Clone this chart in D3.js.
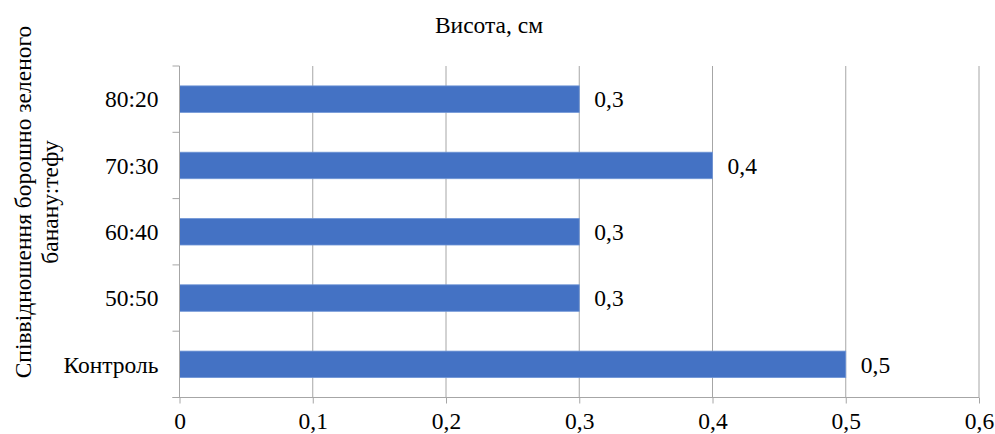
<!DOCTYPE html>
<html>
<head>
<meta charset="utf-8">
<script src="https://cdn.jsdelivr.net/npm/d3@7"></script>
<style>
  html, body { margin: 0; padding: 0; background: #fff; }
  svg { display: block; }
  text { font-family: "Liberation Serif", "Times New Roman", serif; fill: #000; }
</style>
</head>
<body>
<script>
// Bar chart: height of baked samples by flour ratio
const categories = ["80:20", "70:30", "60:40", "50:50", "Контроль"];
const values = [0.3, 0.4, 0.3, 0.3, 0.5];
const valueLabels = ["0,3", "0,4", "0,3", "0,3", "0,5"];
const xTicks = [0, 0.1, 0.2, 0.3, 0.4, 0.5, 0.6];
const xTickLabels = ["0", "0,1", "0,2", "0,3", "0,4", "0,5", "0,6"];
const title = "Висота, см";
const yTitleLines = ["Співвідношення борошно зеленого", "банану:тефу"];

const W = 995, H = 434;
const margin = { top: 66, right: 16, bottom: 36.5, left: 179.5 };
const fontSize = 23.5;
const serif = "Liberation Serif, Times New Roman, serif";
const axisColor = "#a6a6a6";

const svg = d3.select("body").append("svg").attr("width", W).attr("height", H);

const x = d3.scaleLinear().domain([0, 0.6]).range([margin.left, W - margin.right]);
const y = d3.scaleBand().domain(categories).range([margin.top, H - margin.bottom])
  .paddingInner(0.6).paddingOuter(0.3);

// vertical gridlines
svg.append("g").selectAll("line").data(xTicks.slice(1)).join("line")
  .attr("x1", d => x(d)).attr("x2", d => x(d))
  .attr("y1", margin.top).attr("y2", H - margin.bottom)
  .attr("stroke", axisColor).attr("stroke-width", 1);

// bars
svg.append("g").selectAll("rect").data(categories).join("rect")
  .attr("x", x(0))
  .attr("y", d => y(d))
  .attr("width", (d, i) => x(values[i]) - x(0))
  .attr("height", y.bandwidth())
  .attr("fill", "#4472c4")
  .attr("stroke", "#7096d6").attr("stroke-width", 0.8);

// value labels
svg.append("g").selectAll("text").data(categories).join("text")
  .attr("x", (d, i) => x(values[i]) + 15)
  .attr("y", d => y(d) + y.bandwidth() / 2)
  .attr("dy", "0.35em")
  .attr("font-size", fontSize)
  .text((d, i) => valueLabels[i]);

// x axis
const xAxis = d3.axisBottom(x).tickValues(xTicks)
  .tickFormat((d, i) => xTickLabels[i]).tickSize(6).tickPadding(9).tickSizeOuter(0);
const gx = svg.append("g").attr("transform", `translate(0,${H - margin.bottom})`).call(xAxis);
gx.select(".domain").remove();
gx.append("line").attr("x1", margin.left - 7).attr("x2", W - margin.right)
  .attr("stroke", axisColor);
gx.selectAll(".tick line").attr("stroke", axisColor);
gx.selectAll(".tick text").attr("font-size", fontSize).attr("font-family", serif).attr("fill", "#000");

// y axis with ticks at category boundaries
const yTop = margin.top, yBot = H - margin.bottom;
const step = (yBot - yTop) / categories.length;
const gy = svg.append("g");
gy.append("line").attr("x1", margin.left).attr("x2", margin.left)
  .attr("y1", yTop).attr("y2", yBot).attr("stroke", axisColor);
gy.selectAll("line.tk").data(d3.range(categories.length + 1)).join("line").attr("class", "tk")
  .attr("x1", margin.left - 7).attr("x2", margin.left)
  .attr("y1", i => yTop + i * step).attr("y2", i => yTop + i * step)
  .attr("stroke", axisColor);
gy.selectAll("text").data(categories).join("text")
  .attr("x", margin.left - 21)
  .attr("y", d => y(d) + y.bandwidth() / 2)
  .attr("dy", "0.35em")
  .attr("text-anchor", "end")
  .attr("font-size", fontSize)
  .text(d => d);

// chart title
svg.append("text").attr("x", 489).attr("y", 33).attr("text-anchor", "middle")
  .attr("font-size", fontSize).text(title);

// y axis title
const yt = svg.append("text").attr("transform", "translate(31,202) rotate(-90)")
  .attr("text-anchor", "middle").attr("font-size", fontSize);
yTitleLines.forEach((t, i) => {
  yt.append("tspan").attr("x", 0).attr("dy", i === 0 ? 0 : 27).text(t);
});
</script>
</body>
</html>
